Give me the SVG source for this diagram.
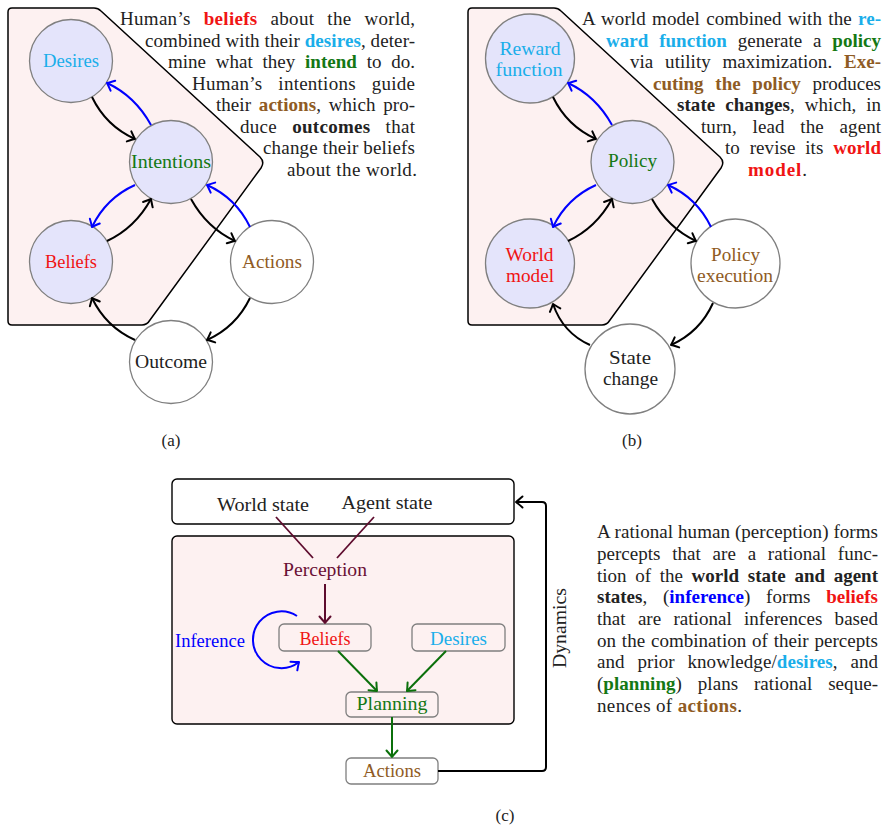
<svg xmlns="http://www.w3.org/2000/svg" width="887" height="827" viewBox="0 0 887 827">
<style>
.p{font-family:"Liberation Serif","Times New Roman",serif;font-size:19px;fill:#222}
.b{font-weight:bold}
.red{fill:#f01414}.cy{fill:#1aaeea}.gr{fill:#147814}.br{fill:#8f5b24}.bl{fill:#0000ff}.mr{fill:#6a1035}.dk{fill:#222}
.bg{fill:#fdf1f1;stroke:#000;stroke-width:1.5}
.node circle{fill:#e4e4fb;stroke:#7f7f7f;stroke-width:1.3}
.node.w circle{fill:#fff}
.lbl{font-family:"Liberation Serif","Times New Roman",serif;font-size:18px;text-anchor:middle}
.box{fill:none;stroke:#7f7f7f;stroke-width:1.3}
.e{fill:none;stroke-width:2}
.k{stroke:#000}.u{stroke:#0000ff}.g{stroke:#0b700b}.m{stroke:#5e0c2e}
.cap{font-family:"Liberation Serif","Times New Roman",serif;font-size:17px;fill:#222;text-anchor:middle}
</style>
<defs>
<marker id="mk" markerUnits="userSpaceOnUse" markerWidth="16" markerHeight="16" viewBox="-8 -8 16 16" refX="0" refY="0" orient="auto" overflow="visible"><path d="M -6.5 -5.5 Q -2 -1.5 0 0 Q -2 1.5 -6.5 5.5" fill="none" stroke="#000" stroke-width="2" stroke-linecap="round" stroke-linejoin="round"/></marker>
<marker id="mb" markerUnits="userSpaceOnUse" markerWidth="16" markerHeight="16" viewBox="-8 -8 16 16" refX="0" refY="0" orient="auto" overflow="visible"><path d="M -6.5 -5.5 Q -2 -1.5 0 0 Q -2 1.5 -6.5 5.5" fill="none" stroke="#0000ff" stroke-width="2" stroke-linecap="round" stroke-linejoin="round"/></marker>
<marker id="mg" markerUnits="userSpaceOnUse" markerWidth="16" markerHeight="16" viewBox="-8 -8 16 16" refX="0" refY="0" orient="auto" overflow="visible"><path d="M -6.5 -5.5 Q -2 -1.5 0 0 Q -2 1.5 -6.5 5.5" fill="none" stroke="#0b700b" stroke-width="2" stroke-linecap="round" stroke-linejoin="round"/></marker>
<marker id="mm" markerUnits="userSpaceOnUse" markerWidth="16" markerHeight="16" viewBox="-8 -8 16 16" refX="0" refY="0" orient="auto" overflow="visible"><path d="M -6.5 -5.5 Q -2 -1.5 0 0 Q -2 1.5 -6.5 5.5" fill="none" stroke="#5e0c2e" stroke-width="2" stroke-linecap="round" stroke-linejoin="round"/></marker>
</defs>
<rect width="887" height="827" fill="#fff"/>

<!-- ============ Panel (a) ============ -->
<path id="a-region" class="bg" d="M 8 12 Q 8 8 12 8 L 94 8 Q 98 8 101 11 L 260 157 Q 265 162 261 168 L 150 320 Q 147 325 142 325 L 12 325 Q 8 325 8 321 Z"/>

<g id="a-desires" class="node"><circle cx="71" cy="61" r="41.5"/><text class="lbl cy" x="71" y="67" textLength="56" lengthAdjust="spacingAndGlyphs">Desires</text></g>
<g id="a-intentions" class="node"><circle cx="171" cy="162" r="41.5"/><text class="lbl gr" x="171" y="168" textLength="80" lengthAdjust="spacingAndGlyphs">Intentions</text></g>
<g id="a-beliefs" class="node"><circle cx="71" cy="262" r="41.5"/><text class="lbl red" x="71" y="268" textLength="52" lengthAdjust="spacingAndGlyphs">Beliefs</text></g>
<g id="a-actions" class="node w"><circle cx="272" cy="262" r="41.5"/><text class="lbl br" x="272" y="268" textLength="60" lengthAdjust="spacingAndGlyphs">Actions</text></g>
<g id="a-outcome" class="node w"><circle cx="171" cy="362" r="41.5"/><text class="lbl dk" x="171" y="368" textLength="72" lengthAdjust="spacingAndGlyphs">Outcome</text></g>

<g id="a-edges">
<path class="e k" d="M 92 97 Q 106 126 135 139" marker-end="url(#mk)"/>
<path class="e u" d="M 151 125 Q 135 96 107 83" marker-end="url(#mb)"/>
<path class="e u" d="M 135 185 Q 106 198 92 227" marker-end="url(#mb)"/>
<path class="e k" d="M 107 241 Q 135 228 151 199" marker-end="url(#mk)"/>
<path class="e k" d="M 191 199 Q 207 228 235 241" marker-end="url(#mk)"/>
<path class="e u" d="M 250 227 Q 236 198 207 185" marker-end="url(#mb)"/>
<path class="e k" d="M 250 298 Q 236 327 207 340" marker-end="url(#mk)"/>
<path class="e k" d="M 135 340 Q 106 327 92 298" marker-end="url(#mk)"/>
</g>

<g id="a-text" class="p">
<text x="120" y="25" textLength="295" lengthAdjust="spacing" word-spacing="8">Human’s <tspan class="b red">beliefs</tspan> about the world,</text>
<text x="145" y="46.6" textLength="270" lengthAdjust="spacing">combined with their <tspan class="b cy">desires</tspan>, deter-</text>
<text x="168" y="68.1" textLength="247" lengthAdjust="spacing" word-spacing="5">mine what they <tspan class="b gr">intend</tspan> to do.</text>
<text x="192" y="89.7" textLength="223" lengthAdjust="spacing" word-spacing="11">Human’s intentions guide</text>
<text x="216" y="111.3" textLength="199" lengthAdjust="spacing" word-spacing="3">their <tspan class="b br">actions</tspan>, which pro-</text>
<text x="240" y="132.9" textLength="175" lengthAdjust="spacing" word-spacing="10">duce <tspan class="b">outcomes</tspan> that</text>
<text x="263" y="154.4" textLength="152" lengthAdjust="spacing">change their beliefs</text>
<text x="287" y="176" textLength="130" lengthAdjust="spacing">about the world.</text>
</g>
<text class="cap" x="171" y="446">(a)</text>

<!-- ============ Panel (b) ============ -->
<path id="b-region" class="bg" transform="translate(460,0)" d="M 8 12 Q 8 8 12 8 L 94 8 Q 98 8 101 11 L 260 157 Q 265 162 261 168 L 150 320 Q 147 325 142 325 L 12 325 Q 8 325 8 321 Z"/>

<g id="b-reward" class="node"><circle cx="530" cy="58.5" r="44.5"/><text class="lbl cy" x="530" y="55" textLength="61" lengthAdjust="spacingAndGlyphs">Reward</text><text class="lbl cy" x="529" y="76" textLength="67" lengthAdjust="spacingAndGlyphs">function</text></g>
<g id="b-policy" class="node"><circle cx="632.5" cy="162" r="41.5"/><text class="lbl gr" x="632.5" y="167" textLength="49" lengthAdjust="spacingAndGlyphs">Policy</text></g>
<g id="b-world" class="node"><circle cx="530" cy="263.5" r="44.5"/><text class="lbl red" x="529.5" y="261" textLength="48" lengthAdjust="spacingAndGlyphs">World</text><text class="lbl red" x="530" y="282" textLength="48" lengthAdjust="spacingAndGlyphs">model</text></g>
<g id="b-exec" class="node w"><circle cx="735.5" cy="263.5" r="44.5"/><text class="lbl br" x="735.5" y="261" textLength="49" lengthAdjust="spacingAndGlyphs">Policy</text><text class="lbl br" x="735" y="282" textLength="76" lengthAdjust="spacingAndGlyphs">execution</text></g>
<g id="b-state" class="node w"><circle cx="630" cy="369" r="45"/><text class="lbl dk" x="630" y="364" textLength="42" lengthAdjust="spacingAndGlyphs">State</text><text class="lbl dk" x="630.5" y="385" textLength="55" lengthAdjust="spacingAndGlyphs">change</text></g>

<g id="b-edges">
<g transform="translate(461,0)">
<path class="e k" d="M 92 97 Q 106 126 135 139" marker-end="url(#mk)"/>
<path class="e u" d="M 151 125 Q 135 96 107 83" marker-end="url(#mb)"/>
<path class="e u" d="M 135 185 Q 106 198 92 227" marker-end="url(#mb)"/>
<path class="e k" d="M 107 241 Q 135 228 151 199" marker-end="url(#mk)"/>
<path class="e k" d="M 191 199 Q 207 228 235 241" marker-end="url(#mk)"/>
<path class="e u" d="M 250 227 Q 236 198 207 185" marker-end="url(#mb)"/>
</g>
<path class="e k" d="M 713 303 Q 700 332 671 345" marker-end="url(#mk)"/>
<path class="e k" d="M 590 345 Q 563 333 553 304" marker-end="url(#mk)"/>
</g>

<g id="b-text" class="p">
<text x="582" y="25" textLength="299" lengthAdjust="spacing" word-spacing="1.5">A world model combined with the <tspan class="b cy">re-</tspan></text>
<text x="606" y="46.6" textLength="275" lengthAdjust="spacing" word-spacing="6"><tspan class="b cy">ward function</tspan> generate a <tspan class="b gr">policy</tspan></text>
<text x="630" y="68.1" textLength="251" lengthAdjust="spacing" word-spacing="7">via utility maximization. <tspan class="b br">Exe-</tspan></text>
<text x="653" y="89.7" textLength="228" lengthAdjust="spacing" word-spacing="7"><tspan class="b br">cuting the policy</tspan> produces</text>
<text x="677" y="111.3" textLength="204" lengthAdjust="spacing" word-spacing="5"><tspan class="b">state changes</tspan>, which, in</text>
<text x="701" y="132.9" textLength="180" lengthAdjust="spacing" word-spacing="11">turn, lead the agent</text>
<text x="725" y="154.4" textLength="156" lengthAdjust="spacing" word-spacing="5">to revise its <tspan class="b red">world</tspan></text>
<text x="748" y="176" textLength="59" lengthAdjust="spacing"><tspan class="b red">model</tspan>.</text>
</g>
<text class="cap" x="632" y="446">(b)</text>

<!-- ============ Panel (c) ============ -->
<g id="c-state-box">
<rect x="172" y="479" width="342" height="45" rx="5" fill="#fff" stroke="#000" stroke-width="1.4"/>
<text class="lbl dk" x="263" y="511" textLength="92" lengthAdjust="spacingAndGlyphs">World state</text>
<text class="lbl dk" x="387" y="509" textLength="91" lengthAdjust="spacingAndGlyphs">Agent state</text>
</g>
<rect id="c-agent-box" x="172" y="536" width="342" height="188" rx="5" fill="#fdf1f1" stroke="#000" stroke-width="1.4"/>

<g id="c-perception"><text class="lbl mr" x="325" y="576" textLength="84" lengthAdjust="spacingAndGlyphs">Perception</text></g>
<g id="c-beliefs"><rect class="box" x="279" y="624" width="92" height="27" rx="5"/><text class="lbl red" x="325" y="644.5" textLength="51" lengthAdjust="spacingAndGlyphs">Beliefs</text></g>
<g id="c-desires"><rect class="box" x="412" y="624" width="93" height="27" rx="5"/><text class="lbl cy" x="458.5" y="644.5" textLength="57" lengthAdjust="spacingAndGlyphs">Desires</text></g>
<g id="c-planning"><rect class="box" x="346" y="692" width="92" height="25" rx="5"/><text class="lbl gr" x="392" y="709.5" textLength="71" lengthAdjust="spacingAndGlyphs">Planning</text></g>
<g id="c-actions"><rect class="box" x="346" y="758" width="92" height="26" rx="5" fill="#fff"/><text class="lbl br" x="392" y="777" textLength="58" lengthAdjust="spacingAndGlyphs">Actions</text></g>
<g id="c-inference-label"><text class="lbl bl" x="210" y="647" textLength="70" lengthAdjust="spacingAndGlyphs">Inference</text></g>
<text class="lbl dk" transform="translate(566,628) rotate(-90)" x="0" y="0" textLength="80" lengthAdjust="spacingAndGlyphs">Dynamics</text>

<g id="c-edges">
<path class="e m" style="stroke-width:1.8" d="M 276 517 L 313 558"/>
<path class="e m" style="stroke-width:1.8" d="M 374 517 L 337 558"/>
<path class="e m" d="M 325 584 L 325 623" marker-end="url(#mm)"/>
<path class="e u" d="M 297 616 A 28.4 28.4 0 1 0 299 662" marker-end="url(#mb)"/>
<path class="e g" d="M 338 651 L 377 691" marker-end="url(#mg)"/>
<path class="e g" d="M 446 651 L 407 691" marker-end="url(#mg)"/>
<path class="e g" d="M 392 717 L 392 757" marker-end="url(#mg)"/>
<path class="e k" d="M 438 771 L 542 771 Q 546 771 546 767 L 546 506 Q 546 502 542 502 L 516 502" marker-end="url(#mk)"/>
</g>

<g id="c-text" class="p">
<text x="597" y="538.3" textLength="281" lengthAdjust="spacing">A rational human (perception) forms</text>
<text x="597" y="560" textLength="281" lengthAdjust="spacing" word-spacing="7">percepts that are a rational func-</text>
<text x="597" y="581.7" textLength="281" lengthAdjust="spacing" word-spacing="4">tion of the <tspan class="b">world state and agent</tspan></text>
<text x="597" y="603.3" textLength="281" lengthAdjust="spacing" word-spacing="11"><tspan class="b">states</tspan>, (<tspan class="b bl">inference</tspan>) forms <tspan class="b red">beliefs</tspan></text>
<text x="597" y="625" textLength="281" lengthAdjust="spacing" word-spacing="7.5">that are rational inferences based</text>
<text x="597" y="646.7" textLength="281" lengthAdjust="spacing" word-spacing="1">on the combination of their percepts</text>
<text x="597" y="668.3" textLength="281" lengthAdjust="spacing" word-spacing="8">and prior knowledge/<tspan class="b cy">desires</tspan>, and</text>
<text x="597" y="690" textLength="281" lengthAdjust="spacing" word-spacing="11">(<tspan class="b gr">planning</tspan>) plans rational seque-</text>
<text x="597" y="711.7" textLength="145" lengthAdjust="spacing">nences of <tspan class="b br">actions</tspan>.</text>
</g>
<text class="cap" x="505" y="821">(c)</text>
</svg>
